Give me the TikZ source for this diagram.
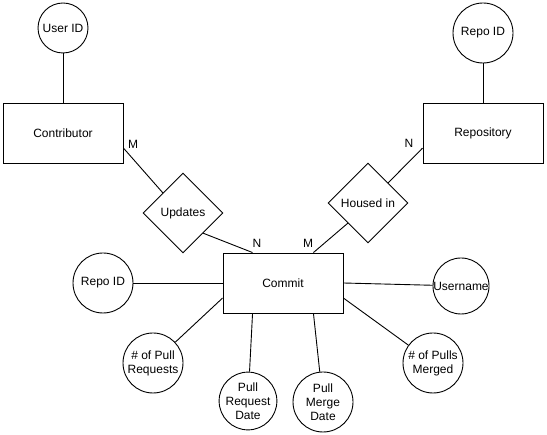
\documentclass[tikz,border=0pt]{standalone}
\usepackage{fontspec}
\setmainfont{Liberation Sans}
\usetikzlibrary{shapes.geometric}
\begin{document}
\begin{tikzpicture}[x=1pt,y=-1pt,line width=0.9pt,
  every node/.style={font=\fontsize{12}{14}\selectfont, text=black},
  ent/.style={draw, rectangle, minimum width=120pt, minimum height=60pt, inner sep=0pt},
  attr/.style={draw, circle, inner sep=0pt, minimum size=#1, align=center},
  attr/.default=60pt,
  rel/.style={draw, diamond, minimum width=80pt, minimum height=80pt, inner sep=0pt},
  card/.style={inner sep=0pt}]
\useasboundingbox (0,0) rectangle (547,435);
% entities
\node[ent] (contrib) at (63,133) {Contributor};
\node[ent] (repo) at (483,133) {Repository};
\node[ent] (commit) at (283,283) {Commit};
% relations
\node[rel] (upd) at (183,213) {Updates};
\node[rel] (hou) at (368,203) {Housed in};
% attributes
\node[attr=50pt] (userid) at (63,28) {User ID};
\node[attr] (repoid) at (483,33) {Repo ID};
\node[attr] (repoid2) at (103,283) {Repo ID};
\node[attr=56pt] (uname) at (461,286) {Username};
\node[attr] (npr) at (153,363) {\# of Pull\\Requests};
\node[attr=56pt] (prd) at (248,401) {Pull\\Request\\Date};
\node[attr] (pmd) at (323,402) {Pull\\Merge\\Date};
\node[attr] (npm) at (433,363) {\# of Pulls\\Merged};
% connectors
\draw (userid) -- (contrib);
\draw (repoid) -- (repo);
\draw (contrib.-14) -- (upd.north west);
\draw (upd.south east) -- (commit.135);
\draw (repo.194) -- (hou.north east);
\draw (hou.south west) -- (commit.45);
\draw (repoid2) -- (commit.west);
\draw (commit.east) -- (uname);
\draw (commit.194) -- (npr);
\draw (commit.-135) -- (prd);
\draw (commit.-45) -- (pmd);
\draw (commit.-14) -- (npm);
% cardinalities
\node[card] (c1) at (133,144) {M};
\node[card] (c2) at (257,243) {N};
\node[card] (c3) at (308,243) {M};
\node[card] (c4) at (409,143) {N};
\end{tikzpicture}
\end{document}
